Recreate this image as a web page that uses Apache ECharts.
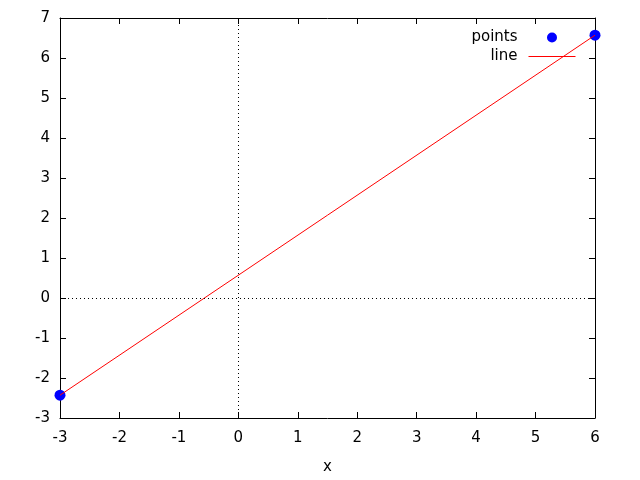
<!DOCTYPE html>
<html><head><meta charset="utf-8">
<script src="https://cdn.jsdelivr.net/npm/echarts@6/dist/echarts.min.js"></script>
<style>html,body{margin:0;padding:0;background:#fff}#c{width:640px;height:480px}</style>
</head><body><div id="c"></div>
<script>
const pointsData = [[-3, -2.43], [6, 6.57]];
const lineData = [[-3, -2.43], [6, 6.57]];
const xTicks = [-3, -2, -1, 0, 1, 2, 3, 4, 5, 6];
const yTicks = [-3, -2, -1, 0, 1, 2, 3, 4, 5, 6, 7];

const chart = echarts.init(document.getElementById('c'), null, {renderer: 'canvas'});
const font = 'DejaVu Sans';
const fs = 15;
const axisCommon = {
  axisLine: {show: true, onZero: false, lineStyle: {color: '#000', width: 1}},
  axisTick: {show: true, inside: true, length: 6, lineStyle: {color: '#000'}},
  splitLine: {show: false}
};
chart.setOption({
  animation: false,
  grid: {left: 60, right: 45, top: 18, bottom: 61},
  legend: {
    orient: 'vertical', right: 59, top: 25, align: 'right',
    itemWidth: 47, itemHeight: 10, itemGap: 4,
    textStyle: {fontFamily: font, fontSize: fs, color: '#000', padding: [0, 6, 0, 0]},
    data: [
      {name: 'points'},
      {name: 'line', itemStyle: {opacity: 0}, lineStyle: {width: 1, color: '#ff0000', opacity: 1}}
    ]
  },
  xAxis: [
    Object.assign({type: 'value', min: xTicks[0], max: xTicks[xTicks.length-1], interval: 1, position: 'bottom',
      name: 'x', nameLocation: 'middle', nameGap: 42,
      nameTextStyle: {fontFamily: font, fontSize: fs, color: '#000'},
      axisLabel: {fontFamily: font, fontSize: fs, color: '#000', margin: 13}}, axisCommon),
    Object.assign({type: 'value', min: xTicks[0], max: xTicks[xTicks.length-1], interval: 1, position: 'top',
      axisLabel: {show: false}}, axisCommon)
  ],
  yAxis: [
    Object.assign({type: 'value', min: yTicks[0], max: yTicks[yTicks.length-1], interval: 1, position: 'left',
      axisLabel: {fontFamily: font, fontSize: fs, color: '#000', margin: 10}}, axisCommon),
    Object.assign({type: 'value', min: yTicks[0], max: yTicks[yTicks.length-1], interval: 1, position: 'right',
      axisLabel: {show: false}}, axisCommon)
  ],
  series: [
    {
      name: 'zero', type: 'line', data: [], silent: true,
      markLine: {
        silent: true, symbol: 'none', label: {show: false},
        lineStyle: {color: '#000', type: [1, 3], width: 1},
        data: [{xAxis: 0}, {yAxis: 0}]
      }
    },
    {
      name: 'points', type: 'scatter', data: pointsData, symbol: 'circle', symbolSize: 11,
      itemStyle: {color: '#0000ff', opacity: 1}, z: 3
    },
    {
      name: 'line', type: 'line', data: lineData, symbol: 'none', showSymbol: false,
      lineStyle: {color: '#ff0000', width: 1}, itemStyle: {color: '#ff0000'}, z: 4
    }
  ]
});
</script></body></html>
